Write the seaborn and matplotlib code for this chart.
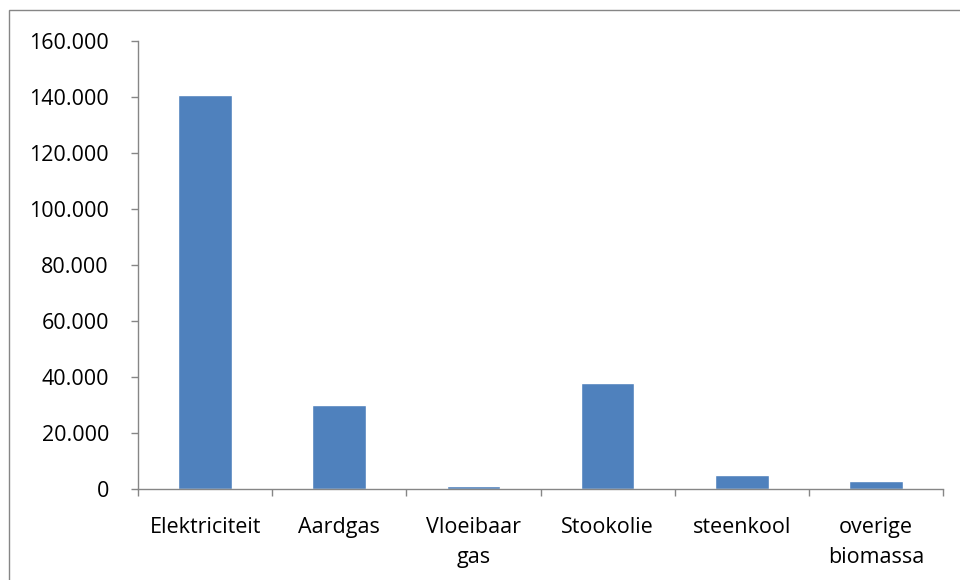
import matplotlib
matplotlib.use("Agg")
import matplotlib.pyplot as plt
from matplotlib.patches import Rectangle
from matplotlib.ticker import FuncFormatter, FixedLocator
import seaborn as sns
import pandas as pd

# data
categories = ["Elektriciteit", "Aardgas", "Vloeibaar\ngas", "Stookolie", "steenkool", "overige\nbiomassa"]
values = [140700, 30000, 1000, 37700, 5000, 2700]

df = pd.DataFrame({"cat": categories, "val": values})

sns.set_style("white")
plt.rcParams['font.family'] = ['Open Sans', 'DejaVu Sans']

fig = plt.figure(figsize=(9.6, 5.8), dpi=100)
ax = fig.add_axes([0.1438, 0.157, 0.8385, 0.772])

sns.barplot(data=df, x="cat", y="val", color="#4F81BD", width=0.4, saturation=1, ax=ax)

ax.set_xlim(-0.5, len(categories) - 0.5)
ax.set_ylim(0, 160000)
ax.set_yticks(range(0, 160001, 20000))
ax.yaxis.set_major_formatter(FuncFormatter(lambda v, p: "0" if v == 0 else f"{int(v):,}".replace(",", ".")))
ax.set_xlabel("")
ax.set_ylabel("")

# category boundaries as tick marks
ax.xaxis.set_minor_locator(FixedLocator([i - 0.5 for i in range(len(categories) + 1)]))
ax.tick_params(axis="x", which="major", length=0, pad=20, labelsize=15.5)
ax.tick_params(axis="x", which="minor", length=5, color="#868686", width=1, direction="out")
ax.tick_params(axis="y", which="major", length=5, color="#868686", width=1, direction="out", labelsize=15.5, pad=16)
ax.tick_params(axis="both", colors="#868686", labelcolor="black")
ax.xaxis.set_ticks_position("bottom")
ax.yaxis.set_ticks_position("left")
for lbl in ax.get_xticklabels():
    lbl.set_linespacing(1.55)

for side in ["top", "right"]:
    ax.spines[side].set_visible(False)
for side in ["left", "bottom"]:
    ax.spines[side].set_color("#868686")
    ax.spines[side].set_linewidth(1)

# outer chart border
fig.patches.append(Rectangle((9 / 960, -0.1), 1.2, 1 - 10 / 580 + 0.1, transform=fig.transFigure,
                             fill=False, edgecolor="#868686", linewidth=1))

fig.savefig("out.png", dpi=100)
